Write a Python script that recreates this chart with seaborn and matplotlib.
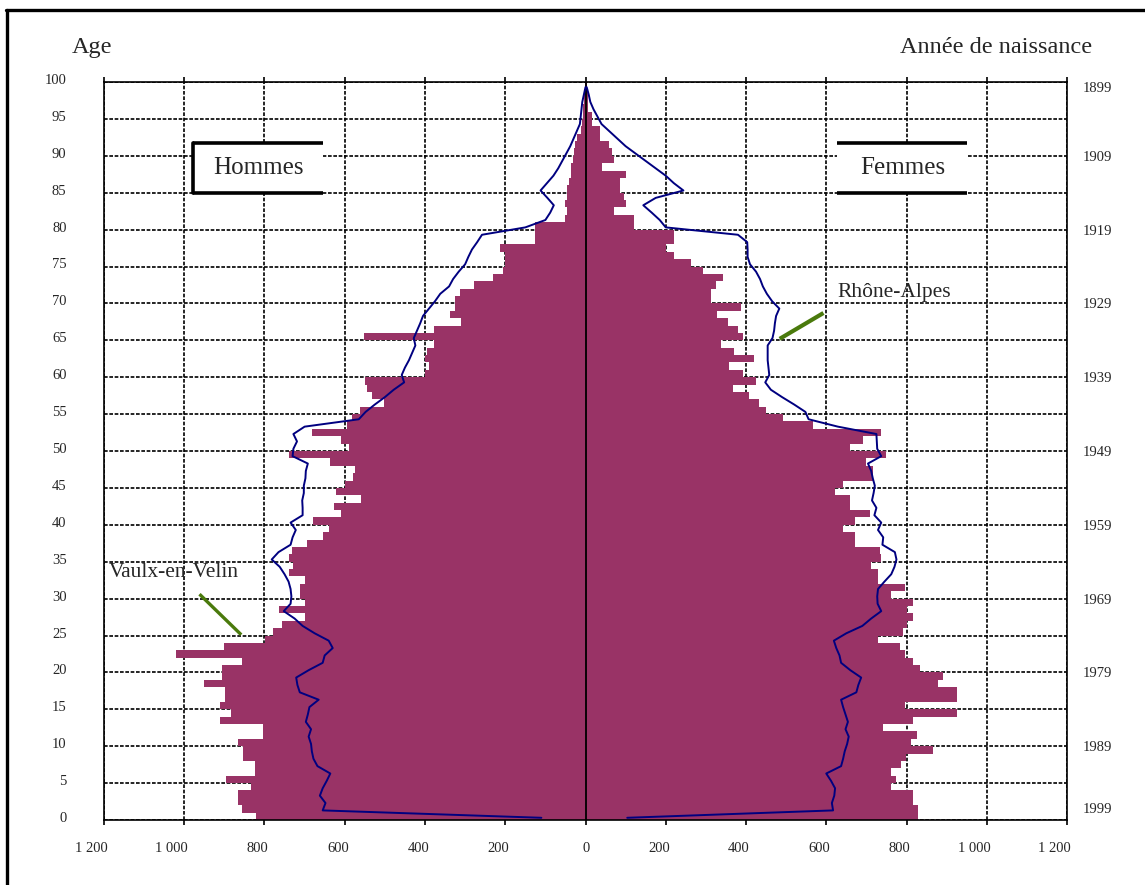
import numpy as np
import matplotlib
matplotlib.use("Agg")
import matplotlib.pyplot as plt
import seaborn as sns
from matplotlib.transforms import ScaledTranslation
from matplotlib.lines import Line2D
from matplotlib.patches import Rectangle

#population by single year of age (0..99), Vaulx-en-Velin
ages = np.arange(100)
hommes = np.array([
    821, 857, 867, 867, 833, 897, 823, 823, 853, 853,
    867, 803, 803, 912, 884, 912, 898, 898, 952, 906,
    906, 857, 1021, 902, 798, 780, 757, 700, 765, 700,
    711, 711, 700, 740, 730, 740, 732, 694, 653, 640,
    678, 610, 628, 560, 622, 599, 580, 574, 638, 740,
    590, 610, 682, 595, 582, 561, 503, 532, 545, 549,
    400, 390, 400, 395, 378, 553, 378, 310, 337, 324,
    324, 312, 279, 230, 206, 200, 200, 212, 125, 125,
    125, 52, 45, 52, 46, 46, 40, 37, 35, 31,
    28, 25, 22, 12, 8, 6, 5, 4, 3, 2])
femmes = np.array([
    829, 829, 815, 815, 762, 775, 762, 787, 798, 865,
    810, 825, 742, 817, 925, 796, 925, 925, 879, 892,
    833, 817, 796, 783, 729, 792, 800, 817, 800, 817,
    762, 796, 729, 729, 712, 737, 733, 671, 671, 642,
    671, 708, 658, 658, 621, 642, 717, 717, 700, 750,
    660, 692, 737, 567, 492, 450, 433, 408, 367, 425,
    392, 358, 421, 371, 337, 392, 379, 354, 327, 387,
    312, 312, 325, 342, 292, 262, 221, 200, 221, 221,
    121, 121, 71, 100, 96, 87, 87, 100, 42, 71,
    67, 58, 37, 37, 17, 17, 6, 6, 5, 3])

#Rhone-Alpes profile rescaled to the same total
ra_hommes = np.array([
    110, 655, 648, 662, 655, 645, 636, 668, 678, 682,
    684, 690, 684, 697, 692, 688, 665, 712, 718, 721,
    690, 655, 650, 630, 640, 675, 705, 725, 752, 735,
    733, 735, 740, 750, 762, 782, 765, 735, 730, 722,
    735, 705, 705, 706, 702, 702, 698, 697, 692, 730,
    728, 719, 728, 700, 565, 548, 525, 500, 478, 452,
    458, 450, 440, 432, 424, 428, 420, 412, 405, 390,
    375, 362, 340, 330, 316, 300, 292, 283, 270, 258,
    150, 100, 88, 79, 95, 112, 96, 80, 68, 58,
    48, 38, 30, 22, 14, 12, 10, 8, 4, 0])
ra_femmes = np.array([
    104, 617, 614, 620, 622, 612, 600, 637, 642, 646,
    652, 656, 648, 654, 648, 642, 637, 675, 680, 687,
    660, 637, 633, 625, 619, 650, 690, 712, 737, 728,
    727, 729, 745, 762, 770, 775, 771, 740, 742, 729,
    737, 720, 725, 714, 718, 721, 716, 712, 704, 737,
    727, 726, 725, 629, 556, 548, 520, 490, 462, 448,
    458, 456, 454, 454, 454, 466, 470, 472, 475, 483,
    465, 452, 442, 435, 425, 410, 404, 404, 403, 380,
    200, 185, 165, 144, 175, 244, 220, 200, 175, 150,
    125, 100, 80, 60, 40, 30, 20, 12, 8, 3])

x_ticks = np.arange(-1200, 1201, 200)
age_ticks = np.arange(0, 101, 5)
birth_years = np.arange(1899, 2000, 10)

BAR = "#993366"
NAVY = "#000080"
GREEN = "#4a7a0c"
GRID_LS = (0, (2.2, 1.0))

sns.set_theme(style="white")
plt.rcParams["font.family"] = ["Liberation Serif", "DejaVu Serif"]

W, H = 1145, 885
fig = plt.figure(figsize=(W / 100, H / 100), dpi=100)
ax = fig.add_axes([104 / W, 1 - 820 / H, 963 / W, 738 / H])

#bars: men on the left (negative), women on the right
sns.barplot(x=-hommes, y=ages + 0.5, orient="h", native_scale=True, width=1.0,
            color=BAR, saturation=1, errorbar=None, linewidth=0, ax=ax, zorder=2)
sns.barplot(x=femmes, y=ages + 0.5, orient="h", native_scale=True, width=1.0,
            color=BAR, saturation=1, errorbar=None, linewidth=0, ax=ax, zorder=2)

ax.axvline(0, color="black", lw=1.3, zorder=3)

#regional profile lines
sns.lineplot(x=-ra_hommes, y=ages + 0.3, sort=False, estimator=None,
             color=NAVY, lw=1.4, ax=ax, zorder=4)
sns.lineplot(x=ra_femmes, y=ages + 0.3, sort=False, estimator=None,
             color=NAVY, lw=1.4, ax=ax, zorder=4)

ax.set_xlim(-1200, 1200)
ax.set_ylim(0, 100)
ax.set_xlabel("")
ax.set_ylabel("")

ax.set_xticks(x_ticks)
ax.set_yticks(age_ticks)
ax.set_axisbelow(True)
ax.grid(True, color="black", linestyle=GRID_LS, linewidth=1.2)
for sp in ax.spines.values():
    sp.set_color("black")
    sp.set_linestyle(GRID_LS)
    sp.set_linewidth(1.2)

ax.set_xticklabels([f"{abs(v):,}".replace(",", " ") for v in x_ticks], ha="right")
ax.set_yticklabels([str(a) for a in age_ticks])
ax.tick_params(axis="x", which="both", top=True, bottom=True, direction="out",
               length=3.6, width=1.2, color="black", pad=12, labelsize=10.5)
ax.tick_params(axis="y", length=0, pad=27, labelsize=10.5)
for lab in ax.get_xticklabels():
    lab.set_transform(lab.get_transform() + ScaledTranslation(4 / 100, 0, fig.dpi_scale_trans))
for lab in ax.get_yticklabels():
    lab.set_transform(lab.get_transform() + ScaledTranslation(0, 3 / 100, fig.dpi_scale_trans))

#birth years on the right
ax2 = ax.twinx()
ax2.set_ylim(0, 100)
year_pos = (1999 - birth_years).astype(float)
year_pos[0] -= 0.7
year_pos[-1] += 1.6
ax2.set_yticks(year_pos)
ax2.set_yticklabels([str(y) for y in birth_years])
ax2.tick_params(axis="y", length=0, pad=11, labelsize=10.5)
ax2.grid(False)
for sp in ax2.spines.values():
    sp.set_visible(False)

#labelled boxes
for x0, left_edge, label in [(-977, True, "Hommes"), (628, False, "Femmes")]:
    ax.add_patch(Rectangle((x0, 85.0), 324, 6.7, facecolor="white",
                           edgecolor="none", zorder=5))
    ax.plot([x0, x0 + 324], [91.7, 91.7], color="black", lw=2.6, zorder=6,
            solid_capstyle="butt")
    ax.plot([x0, x0 + 324], [85.0, 85.0], color="black", lw=2.6, zorder=6,
            solid_capstyle="butt")
    if left_edge:
        ax.plot([x0, x0], [85.0, 91.7], color="black", lw=2.6, zorder=6)
    ax.text(x0 + 162, 88.3, label, ha="center", va="center", fontsize=18, zorder=7)

ax.text(628, 71.5, "Rhône-Alpes", ha="left", va="center", fontsize=15.5, zorder=7)
ax.plot([484, 593], [65.2, 68.7], color=GREEN, lw=3, zorder=6, solid_capstyle="butt")
ax.text(-1189, 33.5, "Vaulx-en-Velin", ha="left", va="center", fontsize=15.5, zorder=7)
ax.plot([-962, -858], [30.6, 25.1], color=GREEN, lw=2.4, zorder=6, solid_capstyle="butt")

fig.text(72 / W, 1 - 53 / H, "Age", ha="left", va="baseline", fontsize=17.5)
fig.text(1092 / W, 1 - 53 / H, "Année de naissance", ha="right", va="baseline", fontsize=17.5)

#page frame (top and left edges visible)
fig.add_artist(Line2D([6 / W, 1], [1 - 10 / H] * 2, transform=fig.transFigure,
                      color="black", lw=2.4))
fig.add_artist(Line2D([7 / W] * 2, [0, 1 - 10 / H], transform=fig.transFigure,
                      color="black", lw=2.4))

fig.savefig("out.png", dpi=100, facecolor="white")
